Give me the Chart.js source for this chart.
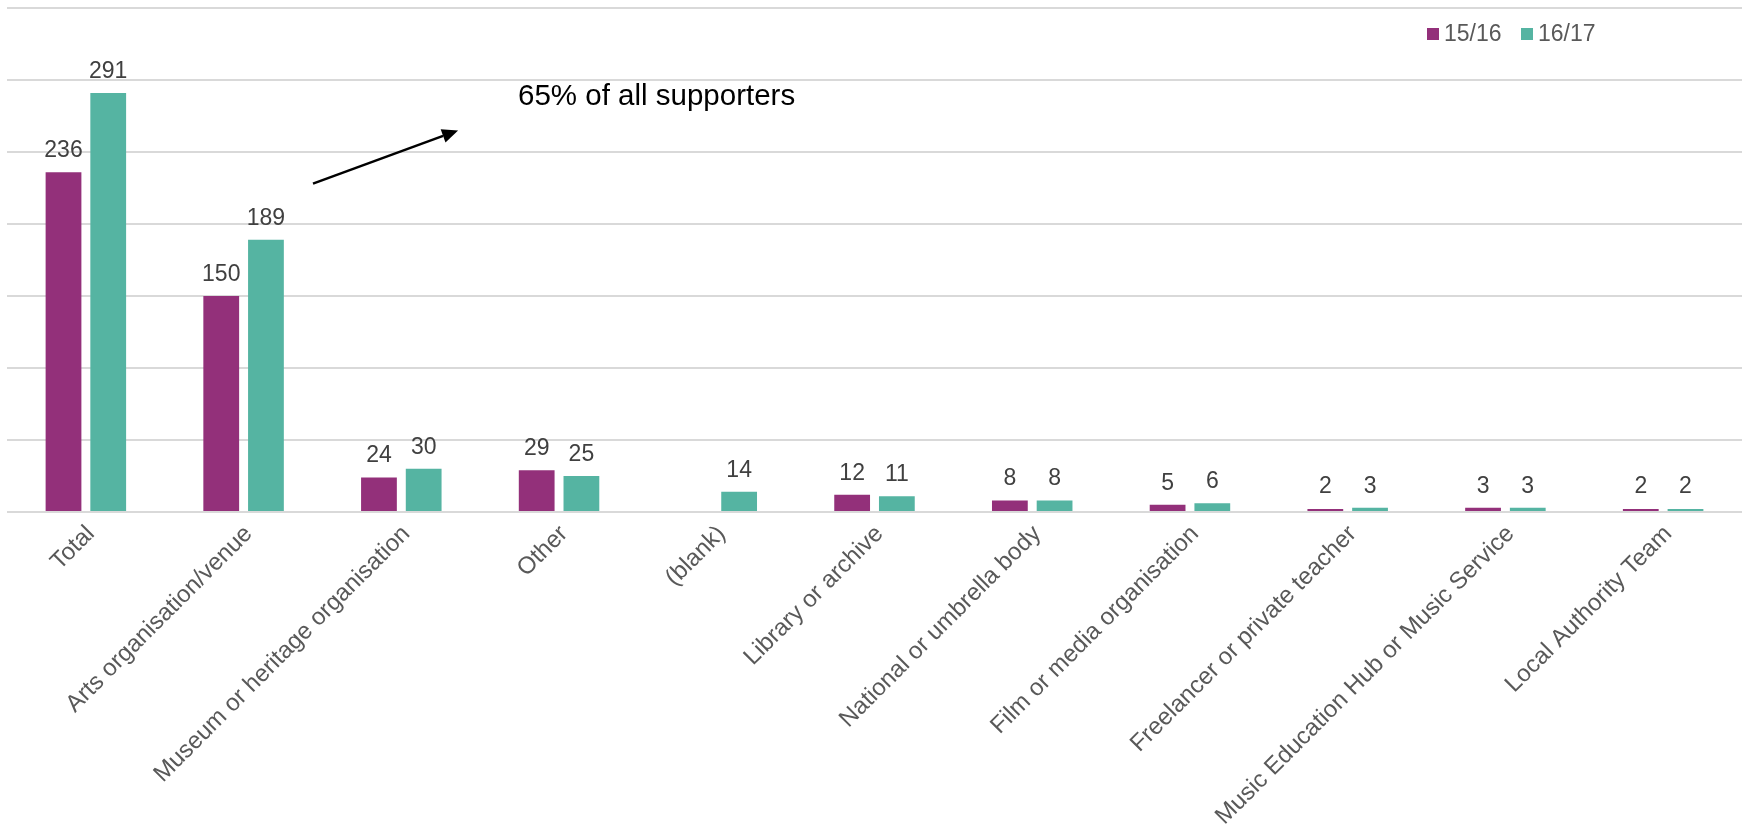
<!DOCTYPE html>
<html>
<head>
<meta charset="utf-8">
<script src="https://cdn.jsdelivr.net/npm/chart.js@4"></script>
<style>
  body { margin: 0; background: #fff; }
</style>
</head>
<body>
<canvas id="chart" width="1747" height="831"></canvas>
<script>
  // Chart data
  const categories = [
    'Total', 'Arts organisation/venue', 'Museum or heritage organisation', 'Other', '(blank)',
    'Library or archive', 'National or umbrella body', 'Film or media organisation',
    'Freelancer or private teacher', 'Music Education Hub or Music Service', 'Local Authority Team'
  ];
  const values1516 = [236, 150, 24, 29, null, 12, 8, 5, 2, 3, 2];
  const values1617 = [291, 189, 30, 25, 14, 11, 8, 6, 3, 3, 2];
  const seriesLabels = ['15/16', '16/17'];
  const yTicks = { min: 0, max: 350, step: 50 };

  const note = '65% of all supporters';
  const fontFamily = '"Liberation Sans", Arial, sans-serif';

  // Values above each bar
  const barLabels = {
    id: 'barLabels',
    afterDatasetsDraw(chart) {
      const ctx = chart.ctx;
      ctx.save();
      ctx.font = '23px ' + fontFamily;
      ctx.fillStyle = '#404040';
      ctx.textAlign = 'center';
      ctx.textBaseline = 'alphabetic';
      chart.data.datasets.forEach((ds, i) => {
        chart.getDatasetMeta(i).data.forEach((bar, j) => {
          const v = ds.data[j];
          if (v == null) return;
          ctx.fillText(String(v), bar.x, Math.min(bar.y, bar.base - 3) - 15);
        });
      });
      ctx.restore();
    }
  };

  // Legend drawn inside the plot, top right
  const insideLegend = {
    id: 'insideLegend',
    afterDraw(chart) {
      const ctx = chart.ctx;
      ctx.save();
      ctx.font = '23px ' + fontFamily;
      ctx.textBaseline = 'middle';
      let x = 1427;
      const y = 34;
      chart.data.datasets.forEach(ds => {
        ctx.fillStyle = ds.backgroundColor;
        ctx.fillRect(x, y - 6, 12, 12);
        ctx.fillStyle = '#595959';
        ctx.fillText(ds.label, x + 17, y + 1);
        x += 94;
      });
      ctx.restore();
    }
  };

  // Arrow and note
  const arrowNote = {
    id: 'arrowNote',
    afterDraw(chart) {
      const xs = chart.scales.x, ys = chart.scales.y;
      const ctx = chart.ctx;
      const x1 = xs.getPixelForValue(1.44), y1 = ys.getPixelForValue(228);
      const x2 = xs.getPixelForValue(2.36), y2 = ys.getPixelForValue(265);
      ctx.save();
      ctx.strokeStyle = '#000';
      ctx.fillStyle = '#000';
      ctx.lineWidth = 2.5;
      const ang = Math.atan2(y2 - y1, x2 - x1);
      const hl = 16, hw = 7;
      const bx = x2 - hl * Math.cos(ang), by = y2 - hl * Math.sin(ang);
      ctx.beginPath();
      ctx.moveTo(x1, y1);
      ctx.lineTo(bx, by);
      ctx.stroke();
      ctx.beginPath();
      ctx.moveTo(x2, y2);
      ctx.lineTo(bx + hw * Math.sin(ang), by - hw * Math.cos(ang));
      ctx.lineTo(bx - hw * Math.sin(ang), by + hw * Math.cos(ang));
      ctx.closePath();
      ctx.fill();
      ctx.font = '29.5px ' + fontFamily;
      ctx.textBaseline = 'alphabetic';
      ctx.fillText(note, xs.getPixelForValue(2.74), ys.getPixelForValue(282.5));
      ctx.restore();
    }
  };

  new Chart(document.getElementById('chart'), {
    type: 'bar',
    data: {
      labels: categories,
      datasets: [
        { label: seriesLabels[0], data: values1516, backgroundColor: '#93307A' },
        { label: seriesLabels[1], data: values1617, backgroundColor: '#55B4A2' }
      ]
    },
    options: {
      responsive: false,
      animation: false,
      categoryPercentage: 0.567,
      barPercentage: 0.8,
      layout: { padding: { left: 7, right: 5, top: 8, bottom: 0 } },
      plugins: {
        legend: { display: false },
        tooltip: { enabled: false }
      },
      scales: {
        x: {
          grid: { display: false },
          border: { display: false },
          ticks: {
            color: '#595959',
            font: { family: fontFamily, size: 24 },
            minRotation: 45,
            maxRotation: 45,
            autoSkip: false,
            padding: 0,
            labelOffset: 5
          },
          afterFit(scale) { scale.height = 319; }
        },
        y: {
          min: yTicks.min,
          max: yTicks.max,
          ticks: { display: false, stepSize: yTicks.step },
          grid: { color: '#d9d9d9', lineWidth: 2, drawTicks: false },
          border: { display: false }
        }
      }
    },
    plugins: [barLabels, insideLegend, arrowNote]
  });
</script>
</body>
</html>
